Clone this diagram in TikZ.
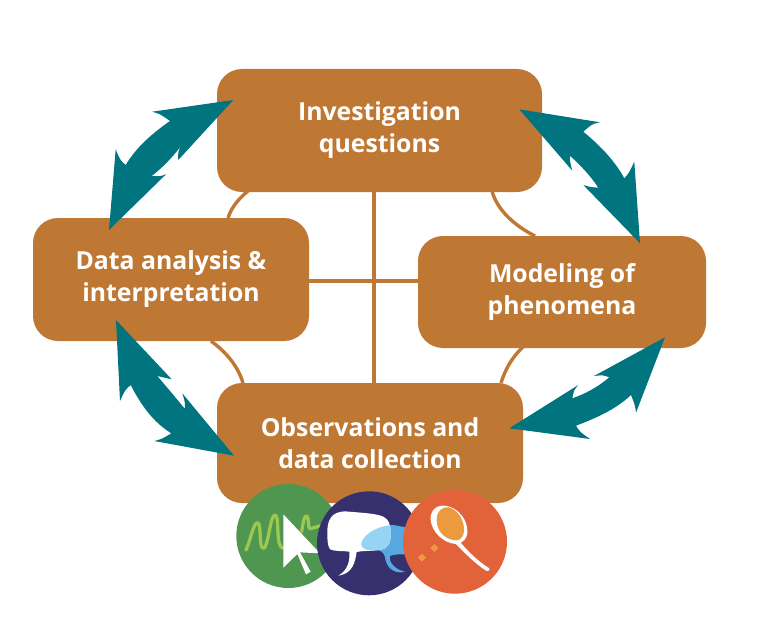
\documentclass[tikz,border=0pt]{standalone}
\usepackage{fontspec}
\setmainfont{Open Sans}
\definecolor{boxc}{HTML}{BF7833}
\definecolor{tealc}{HTML}{00757F}
\definecolor{greenc}{HTML}{4F9650}
\definecolor{lgreenc}{HTML}{9CC84F}
\definecolor{navyc}{HTML}{37306F}
\definecolor{orangec}{HTML}{E2633A}
\definecolor{amberc}{HTML}{EB9A3E}
\definecolor{bluec}{HTML}{55A9E0}
\definecolor{pblue}{HTML}{97D3F5}
\tikzset{
  boxn/.style={draw=none,fill=boxc,rounded corners=25pt,inner sep=0pt,outer sep=0pt,text=white,align=center,
    font=\bfseries\fontsize{24.8}{32}\selectfont},
  linkl/.style={draw=boxc,line width=3.4pt},
  darrow/.style={fill=tealc,draw=none},
  zoomed/.style={shift={(220,470)},x=0.33333pt,y=-0.33333pt}
}
\begin{document}
\begin{tikzpicture}[x=1pt,y=-1pt]
\useasboundingbox (0,0) rectangle (768,626);
\coordinate (cv) at (374,281);
% boxes
\node[boxn,minimum width=325pt,minimum height=123pt] (top) at (379.5,130.5) {Investigation\\questions};
\node[boxn,minimum width=276pt,minimum height=123pt] (lft) at (171,279.5) {Data analysis \&\\interpretation};
\node[boxn,minimum width=288pt,minimum height=112pt] (rgt) at (562,292) {Modeling of\\phenomena};
\node[boxn,minimum width=306pt,minimum height=120pt] (bot) at (370,443) {Observations and\\data collection};
% links
\coordinate (a1) at (248,191);
\coordinate (a2) at (228,218);
\coordinate (b1) at (492,191);
\coordinate (b2) at (535,236);
\coordinate (c1) at (211,341);
\coordinate (c2) at (243,383);
\coordinate (d1) at (523,347);
\coordinate (d2) at (501,383);
\draw[linkl] (cv |- top.south) -- (cv |- bot.north);
\draw[linkl] (lft.east |- cv) -- (rgt.west |- cv);
\draw[linkl] (a1) .. controls (236,201) and (231,209) .. (a2);
\draw[linkl] (b1) .. controls (497,210) and (515,226) .. (b2);
\draw[linkl] (c1) .. controls (226,352) and (238,366) .. (c2);
\draw[linkl] (d1) .. controls (512,357) and (505,370) .. (d2);
% double arrows
\fill[darrow] (233.3,100) -- (152.3,111.7) .. controls (160,114) .. (170,121)
  .. controls (147,137) and (134,151) .. (125.7,165) .. controls (120,160) .. (115.7,149.3)
  -- (109,230) -- (166,174.3) .. controls (160,176.5) .. (151.7,176)
  .. controls (162,168) and (172,158) .. (181,146) .. controls (178,152) .. (178.3,160) -- cycle;
\fill[darrow] (519.3,109.3) -- (600,122.3) .. controls (592,124) .. (583.3,131.7)
  .. controls (603,148) and (616,163) .. (624.3,178.3) .. controls (629,173) .. (634.3,161.7)
  -- (640,243.3) -- (583.3,185) .. controls (590,187) .. (598.3,187.7)
  .. controls (590,175) and (580,165) .. (570,155.7) .. controls (570,162) .. (572.3,170.7) -- cycle;
\fill[darrow] (116,320) -- (171.7,379.3) .. controls (165,377) .. (157.3,376)
  .. controls (165,385) and (176,398) .. (185,409) .. controls (185,402) .. (182.3,393.3)
  -- (234,455.7) -- (154.3,441) .. controls (162,439) .. (171.3,433.3)
  .. controls (153,422) and (141,405) .. (130.7,385) .. controls (125,390) .. (120,401) -- cycle;
\fill[darrow] (665,337.3) -- (636,412.7) .. controls (635,405) .. (631,395)
  .. controls (615,410) and (596,418) .. (576,425.7) .. controls (580,432) .. (590,439)
  -- (509.3,428.3) -- (578.3,385) .. controls (574,390) .. (572.3,398.3)
  .. controls (585,394) and (598,387) .. (609.3,377.3) .. controls (603,375) .. (594,376) -- cycle;
% green icon
\node[circle,fill=greenc,minimum size=104pt,inner sep=0pt,outer sep=0pt] (ig) at (288.3,536) {};
\begin{scope}[zoomed]
\draw[lgreenc,line width=3.3pt,line cap=round,line join=round]
  (78,240) .. controls (90,215) and (100,160) .. (112,158)
  .. controls (126,158) and (115,235) .. (130,235)
  .. controls (145,235) and (150,135) .. (165,135)
  .. controls (180,135) and (165,235) .. (190,235);
\draw[lgreenc,line width=3.3pt,line cap=round,line join=round]
  (245,185) .. controls (250,150) and (255,130) .. (262,140)
  .. controls (268,150) and (262,185) .. (275,175) -- (310,165);
\fill[white] (190,133) -- (300,250) -- (240,247) -- (272,305) -- (258,313) -- (232,252) -- (190,293) -- cycle;
\end{scope}
% navy icon
\node[circle,fill=navyc,minimum size=104pt,inner sep=0pt,outer sep=0pt] (in) at (369,543.3) {};
\begin{scope}[zoomed]
\fill[bluec] (423,222) .. controls (430,190) and (480,165) .. (520,165) -- (600,180) -- (600,250)
  .. controls (560,255) and (525,250) .. (510,258) .. controls (505,280) and (530,300) .. (555,305)
  .. controls (530,312) and (505,300) .. (497,272) .. controls (495,255) and (490,245) .. (475,240)
  .. controls (450,245) and (425,240) .. (423,222) -- cycle;
\fill[white] (322,185) .. controls (322,150) and (335,125) .. (375,124)
  .. controls (420,128) and (470,130) .. (490,140) .. controls (505,148) and (510,160) .. (512,180)
  .. controls (515,220) and (505,235) .. (480,240) .. controls (450,243) and (420,243) .. (410,246)
  .. controls (405,275) and (400,310) .. (355,317) .. controls (385,300) and (390,270) .. (388,245)
  .. controls (370,242) and (345,245) .. (330,238) .. controls (322,225) and (322,210) .. (322,185) -- cycle;
\begin{scope}
\clip (322,185) .. controls (322,150) and (335,125) .. (375,124)
  .. controls (420,128) and (470,130) .. (490,140) .. controls (505,148) and (510,160) .. (512,180)
  .. controls (515,220) and (505,235) .. (480,240) -- (322,240) -- cycle;
\fill[pblue] (423,222) .. controls (430,190) and (480,165) .. (520,165) -- (520,240)
  -- (475,240) .. controls (450,245) and (425,240) .. (423,222) -- cycle;
\end{scope}
\end{scope}
% orange icon
\node[circle,fill=orangec,minimum size=104pt,inner sep=0pt,outer sep=0pt] (io) at (455,541.7) {};
\begin{scope}[zoomed]
\fill[white] (632,150) .. controls (630,120) and (650,105) .. (675,107)
  .. controls (715,112) and (745,150) .. (742,190) .. controls (740,205) and (730,215) .. (722,218)
  .. controls (745,245) and (775,275) .. (808,295) .. controls (812,300) and (806,304) .. (800,303)
  .. controls (770,285) and (735,250) .. (708,222) .. controls (670,220) and (635,185) .. (632,150) -- cycle;
\fill[amberc] (650,150) .. controls (650,122) and (668,110) .. (685,112)
  .. controls (715,118) and (735,155) .. (732,185) .. controls (728,207) and (715,215) .. (700,210)
  .. controls (670,205) and (650,180) .. (650,150) -- cycle;
\fill[amberc] (643,222) -- (655,234) -- (643,246) -- (631,234) -- cycle;
\fill[amberc] (606,251) -- (618,263) -- (606,275) -- (594,263) -- cycle;
\end{scope}
\end{tikzpicture}
\end{document}
